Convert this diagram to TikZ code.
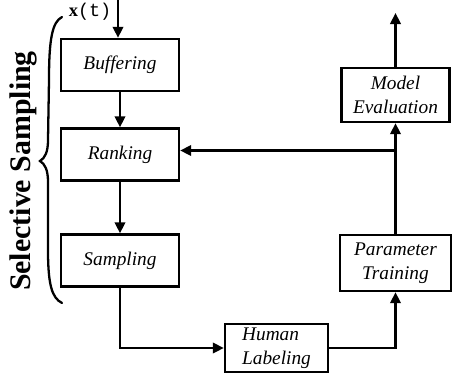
\documentclass[tikz,border=0pt]{standalone}
\usepackage{fontspec}
\setmainfont{Liberation Serif}
\setmonofont{Liberation Mono}
\usetikzlibrary{arrows.meta}

\begin{document}
\begin{tikzpicture}[scale=1,
  box/.style={draw, line width=1.4pt, minimum width=2.36cm, minimum height=1.04cm,
    inner sep=1pt, font=\fontsize{11}{13.5}\selectfont\itshape},
  flow/.style={line width=1.3pt, -{Triangle[length=2.2mm,width=2.1mm]}}]

\useasboundingbox (0,0) rectangle (9.04,7.52);

% Selective Sampling
\node[box] (buf) at (2.40,6.22) {Buffering};
\node[box] (rank) at (2.40,4.43) {Ranking};
\node[box] (samp) at (2.40,2.31) {Sampling};

% Labeling and training
\node[box, minimum width=2.06cm, minimum height=0.96cm, align=left] (hl) at (5.53,0.56) {Human\\Labeling};
\node[box, minimum width=2.22cm, minimum height=1.12cm, align=center] (pt) at (7.91,2.26) {Parameter\\Training};
\node[box, minimum width=2.16cm, minimum height=1.08cm, align=center] (me) at (7.91,5.62) {Model\\Evaluation};

% Input and output
\coordinate (in) at (2.36,7.52);
\coordinate (out) at (7.91,7.26);
\coordinate (fb) at ([yshift=0.08cm]rank.east);
\node[font=\fontsize{10.5}{12}\selectfont] (xt) at (1.80,7.28) {\textbf{x}\texttt{(t)}};

\draw[flow] (in) -- (in |- buf.north);
\draw[flow] (buf) -- (rank);
\draw[flow] (rank) -- (samp);
\draw[flow] (samp.south) |- (hl.west);
\draw[flow] (hl.east) -| (pt.south);
\draw[flow] (pt) -- (me);
\draw[flow] (me) -- (out);

% Retour vers le classement
\draw[flow] (me.south |- fb) -- (fb);

% Accolade
\draw[line width=1.3pt, line cap=round]
(1.24,7.18)
.. controls (1.04,7.08) and (0.98,6.72) ..
(0.98,5.92) -- (0.96,4.72)
.. controls (0.96,4.48) and (0.90,4.36) ..
(0.80,4.30)
.. controls (0.90,4.24) and (0.96,4.12) ..
(0.96,3.88) -- (0.96,2.52)
.. controls (0.96,1.82) and (1.04,1.56) ..
(1.24,1.46);

\node[rotate=90, font=\fontsize{17}{20}\selectfont\bfseries] (sel) at (0.46,4.10) {Selective Sampling};

\end{tikzpicture}
\end{document}
